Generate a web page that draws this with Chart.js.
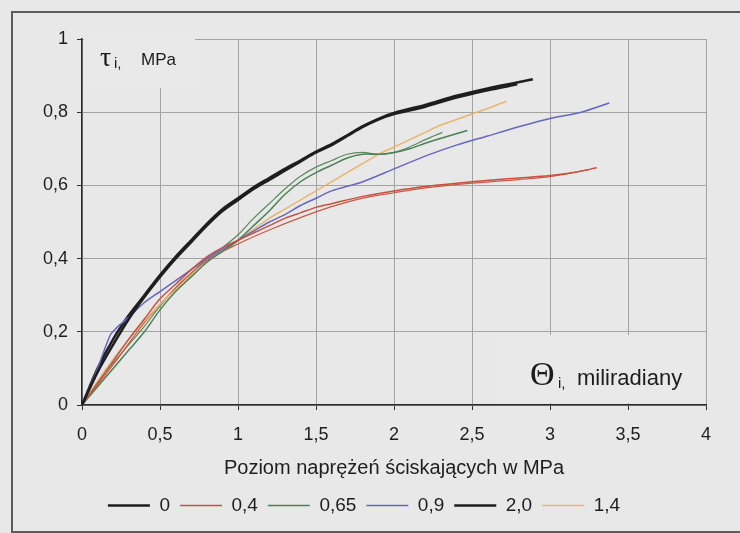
<!DOCTYPE html>
<html>
<head>
<meta charset="utf-8">
<script src="https://cdn.jsdelivr.net/npm/chart.js@4.4.1/dist/chart.umd.min.js"></script>
<style>
  html, body { margin: 0; padding: 0; background: #e8e8e8; }
  #wrap { position: relative; width: 740px; height: 533px; overflow: hidden; }
  #frame { position: absolute; left: 11px; top: 11px; width: 740px; height: 518px;
           border: 2px solid #5c5c5c; border-right: none; }
  #chart { position: absolute; left: 0; top: 0; }
</style>
</head>
<body>
<div id="wrap">
  <div id="frame"></div>
  <canvas id="chart" width="740" height="533"></canvas>
</div>
<script>
// poziomy naprężeń ściskających (legenda)
const legendLabels = ['0', '0,4', '0,65', '0,9', '2,0', '1,4'];
const xTickLabels = ['0', '0,5', '1', '1,5', '2', '2,5', '3', '3,5', '4'];
const yTickLabels = ['0', '0,2', '0,4', '0,6', '0,8', '1'];

// [theta, tau] pary punktów
const s0 = [[0,0],[0.1,0.09],[0.2,0.165],[0.3,0.235],[0.4,0.295],[0.5,0.35],[0.6,0.4],[0.7,0.445],[0.8,0.49],[0.9,0.53],[1.0,0.56],[1.1,0.59],[1.2,0.615],[1.3,0.64],[1.4,0.665],[1.5,0.69],[1.6,0.71],[1.7,0.735],[1.8,0.76],[1.9,0.78],[2.0,0.795],[2.2,0.815],[2.4,0.84],[2.6,0.86],[2.79,0.876]];
const s04 = [[0,0],[0.1,0.06],[0.2,0.12],[0.3,0.18],[0.4,0.235],[0.5,0.29],[0.6,0.33],[0.7,0.37],[0.8,0.405],[0.9,0.43],[1.0,0.45],[1.1,0.47],[1.2,0.49],[1.3,0.51],[1.4,0.525],[1.5,0.54],[1.6,0.55],[1.8,0.57],[2.0,0.585],[2.2,0.597],[2.5,0.61],[2.8,0.62],[3.0,0.627],[3.15,0.635],[3.3,0.648]];
const s065 = [[0,0],[0.1,0.05],[0.2,0.1],[0.3,0.15],[0.4,0.2],[0.5,0.26],[0.6,0.31],[0.7,0.35],[0.8,0.39],[0.9,0.42],[1.0,0.45],[1.1,0.49],[1.2,0.53],[1.3,0.575],[1.4,0.61],[1.5,0.635],[1.6,0.655],[1.7,0.675],[1.8,0.685],[1.9,0.685],[2.0,0.69],[2.1,0.7],[2.2,0.715],[2.35,0.735],[2.47,0.75]];
const s09 = [[0,0],[0.1,0.1],[0.18,0.19],[0.22,0.21],[0.3,0.24],[0.4,0.28],[0.5,0.31],[0.6,0.34],[0.7,0.37],[0.8,0.4],[0.9,0.425],[1.0,0.45],[1.1,0.475],[1.2,0.5],[1.3,0.52],[1.4,0.545],[1.5,0.565],[1.6,0.585],[1.8,0.61],[2.0,0.645],[2.2,0.68],[2.4,0.71],[2.6,0.735],[2.8,0.76],[3.0,0.783],[3.2,0.8],[3.38,0.825]];
const s20 = [[0,0],[0.1,0.1],[0.2,0.18],[0.3,0.245],[0.4,0.3],[0.5,0.355],[0.6,0.405],[0.7,0.45],[0.8,0.495],[0.9,0.535],[1.0,0.565],[1.1,0.595],[1.2,0.62],[1.3,0.645],[1.4,0.668],[1.5,0.692],[1.6,0.713],[1.7,0.737],[1.8,0.762],[1.9,0.782],[2.0,0.798],[2.2,0.82],[2.4,0.845],[2.6,0.865],[2.75,0.878],[2.89,0.89]];
const s14 = [[0,0],[0.1,0.065],[0.2,0.125],[0.3,0.18],[0.4,0.23],[0.5,0.275],[0.6,0.315],[0.7,0.355],[0.8,0.39],[0.9,0.42],[1.0,0.45],[1.1,0.48],[1.2,0.51],[1.3,0.535],[1.4,0.56],[1.5,0.585],[1.6,0.61],[1.7,0.635],[1.8,0.66],[1.9,0.685],[2.0,0.705],[2.1,0.725],[2.2,0.745],[2.3,0.765],[2.4,0.78],[2.5,0.795],[2.6,0.81],[2.72,0.83]];
// drugie próbki dla 0,4 i 0,65 (bez wpisu w legendzie)
const s04b = [[0,0],[0.2,0.11],[0.4,0.225],[0.6,0.32],[0.8,0.395],[1.0,0.44],[1.2,0.478],[1.4,0.512],[1.6,0.542],[1.8,0.565],[2.0,0.58],[2.2,0.593],[2.5,0.606],[2.8,0.616],[3.0,0.624],[3.25,0.643]];
const s065b = [[0,0],[0.1,0.06],[0.2,0.115],[0.3,0.165],[0.4,0.215],[0.5,0.27],[0.6,0.32],[0.7,0.36],[0.8,0.4],[0.9,0.43],[1.0,0.465],[1.1,0.51],[1.2,0.55],[1.3,0.59],[1.4,0.625],[1.5,0.65],[1.6,0.668],[1.7,0.685],[1.8,0.69],[1.9,0.685],[2.0,0.69],[2.1,0.705],[2.2,0.725],[2.31,0.745]];

const toPts = arr => arr.map(([x, y]) => ({ x, y }));

const line = (label, pts, color, width) => ({
  label,
  data: toPts(pts),
  borderColor: color,
  backgroundColor: color,
  borderWidth: width,
  pointRadius: 0,
  tension: 0.3,
  fill: false
});

// opisy osi wewnątrz pola wykresu
const axisNotes = {
  id: 'axisNotes',
  beforeDatasetsDraw(chart) {
    const { ctx, chartArea: a } = chart;
    ctx.save();
    ctx.fillStyle = '#e9e9e9';
    ctx.fillRect(a.left + 2, a.top - 1, 111, 50);
    ctx.fillRect(a.right - 206, a.bottom - 70, 204, 68);

    ctx.fillStyle = '#1c1c1c';
    ctx.textBaseline = 'alphabetic';
    ctx.textAlign = 'left';
    ctx.font = '28px "Liberation Serif"';
    ctx.fillText('τ', a.left + 18, a.top + 27);
    ctx.font = '15px "Liberation Sans"';
    ctx.fillText('i,', a.left + 32, a.top + 29);
    ctx.font = '17px "Liberation Sans"';
    ctx.fillText('MPa', a.left + 59, a.top + 26);

    ctx.font = '34px "Liberation Serif"';
    ctx.fillText('Θ', a.right - 176, a.bottom - 20);
    ctx.font = '15px "Liberation Sans"';
    ctx.fillText('i,', a.right - 148, a.bottom - 17);
    ctx.font = '22px "Liberation Sans"';
    ctx.fillText('miliradiany', a.right - 129, a.bottom - 20);
    ctx.restore();
  }
};

new Chart(document.getElementById('chart'), {
  type: 'line',
  data: {
    datasets: [
      line(legendLabels[0], s0, '#1e1e1e', 2.5),
      line(legendLabels[1], s04, '#c9513f', 1.5),
      line(legendLabels[2], s065, '#4d7f57', 1.5),
      line(legendLabels[3], s09, '#6666c4', 1.5),
      line(legendLabels[4], s20, '#1e1e1e', 2.5),
      line(legendLabels[5], s14, '#e9b66e', 1.5),
      line('', s04b, '#c65a45', 1.2),
      line('', s065b, '#5a8a5e', 1.2)
    ]
  },
  options: {
    responsive: false,
    animation: false,
    layout: { padding: { left: 22, right: 34, top: 39, bottom: 8 } },
    scales: {
      x: {
        type: 'linear',
        min: 0,
        max: 4,
        afterFit: s => { s.height = 81; },
        ticks: {
          stepSize: 0.5,
          padding: 14,
          color: '#1e1e1e',
          font: { family: 'Liberation Sans', size: 18 },
          callback: (v, i) => xTickLabels[i]
        },
        grid: { color: '#a3a3a3', lineWidth: 1, tickLength: 5, tickColor: '#333' },
        border: { color: '#2a2a2a', width: 1.5 },
        title: {
          display: true,
          text: 'Poziom naprężeń ściskających w MPa',
          color: '#1e1e1e',
          font: { family: 'Liberation Sans', size: 20 },
          padding: { top: 0, bottom: 6 }
        }
      },
      y: {
        min: 0,
        max: 1,
        afterFit: s => { s.width = 60; },
        ticks: {
          stepSize: 0.2,
          padding: 9,
          color: '#1e1e1e',
          font: { family: 'Liberation Sans', size: 18 },
          callback: (v, i) => yTickLabels[i]
        },
        grid: { color: '#a3a3a3', lineWidth: 1, tickLength: 5, tickColor: '#333' },
        border: { color: '#2a2a2a', width: 1.5 }
      }
    },
    plugins: {
      tooltip: { enabled: false },
      legend: {
        position: 'bottom',
        labels: {
          usePointStyle: true,
          pointStyle: 'line',
          pointStyleWidth: 42,
          padding: 10,
          color: '#1e1e1e',
          font: { family: 'Liberation Sans', size: 19 },
          filter: item => item.text !== ''
        }
      }
    }
  },
  plugins: [axisNotes]
});
</script>
</body>
</html>
